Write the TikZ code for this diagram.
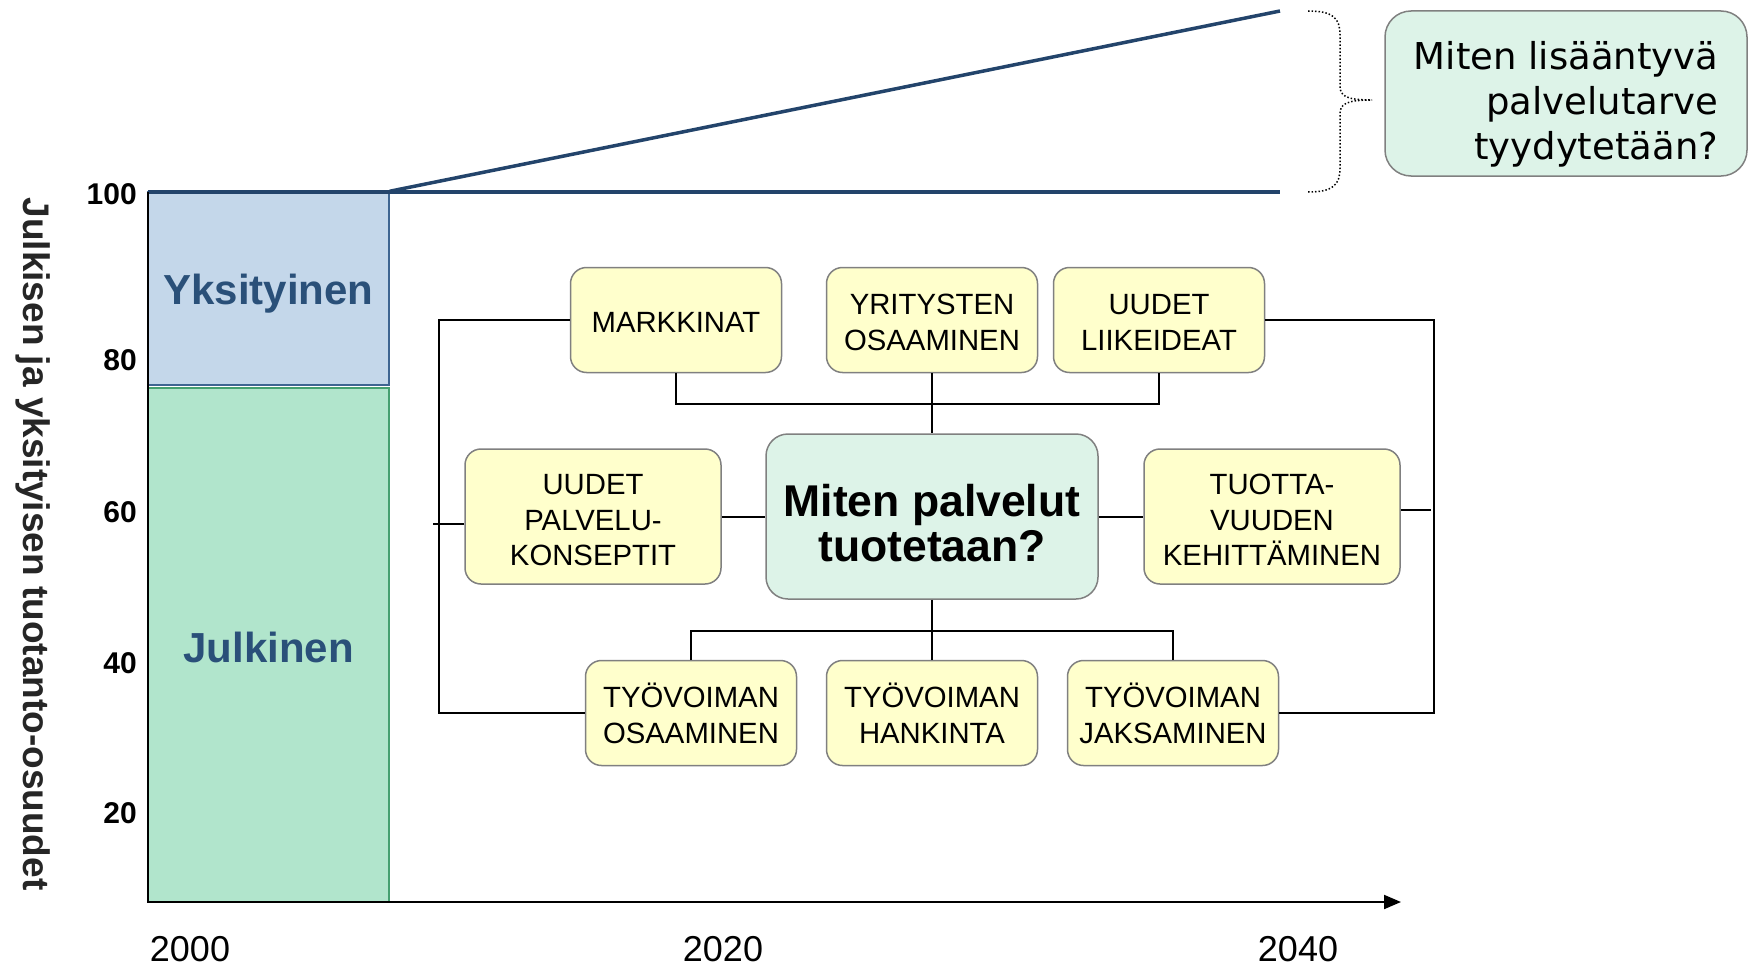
\documentclass[tikz,border=0pt]{standalone}
\usepackage{fontspec}
\setmainfont{Liberation Sans}
\newfontfamily\calloutfont{DejaVu Sans}
\usetikzlibrary{arrows.meta}
\definecolor{navy}{HTML}{23446B}
\definecolor{navytext}{HTML}{2A5079}
\definecolor{barblue}{HTML}{C4D7EA}
\definecolor{barblueline}{HTML}{3E6591}
\definecolor{bargreen}{HTML}{B1E5CC}
\definecolor{bargreenline}{HTML}{45A070}
\definecolor{boxyellow}{HTML}{FFFFCC}
\definecolor{boxgray}{HTML}{808080}
\definecolor{mint}{HTML}{DDF3E8}
\definecolor{labelgray}{HTML}{262626}
\newcommand{\toprow}[1]{\rule{0pt}{#1}}
\begin{document}
\begin{tikzpicture}[x=1pt,y=-1pt,
  ybox/.style={draw=boxgray, fill=boxyellow, line width=1.5pt, rounded corners=16pt, align=center, inner sep=0pt, font=\fontsize{29.3}{35.5}\selectfont, minimum width=211pt, minimum height=105pt},
  widebox/.style={ybox, minimum width=256pt, minimum height=135pt},
  conn/.style={draw=black, line width=2pt},
  tick/.style={anchor=east, inner sep=0pt, font=\bfseries\fontsize{30}{36}\selectfont},
  year/.style={inner sep=0pt, font=\fontsize{36}{43}\selectfont},
  bar/.style={line width=1.5pt, inner sep=0pt, minimum width=241pt, font=\bfseries\fontsize{42}{50}\selectfont, text=navytext},
  trend/.style={draw=navy, line width=3.5pt},
  bracestyle/.style={draw=black, line width=1.5pt, dash pattern=on 1.5pt off 2pt},
]
\useasboundingbox (0,0) rectangle (1750,966);

% bars
\node[bar, draw=bargreenline, fill=bargreen, minimum height=514pt] (pub) at (268.5,645) {\toprow{35pt}Julkinen};
\node[bar, draw=barblueline, fill=barblue, minimum height=193pt] (priv) at (268.5,288.5) {\toprow{41pt}Yksityinen};

% trend lines
\coordinate (o100) at (148,192);
\coordinate (t100) at (1280,192);
\coordinate (t140) at (1280,11);
\draw[trend] (o100) -- (t100);
\draw[trend] (priv.north east) -- (t140);

% axes
\coordinate (origin) at (148,902);
\coordinate (xend) at (1401,902);
\draw[line width=2pt, -{Triangle[length=17pt,width=14pt]}] (o100) -- (origin) -- (xend);

% ticks
\node[tick] (k100) at (137,194) {100};
\node[tick] (k80) at (137,360) {80};
\node[tick] (k60) at (137,512) {60};
\node[tick] (k40) at (137,663) {40};
\node[tick] (k20) at (137,813) {20};

\node[rotate=-90, font=\bfseries\fontsize{37}{43}\selectfont, text=labelgray] (ylab) at (33,544) {Julkisen ja yksityisen tuotanto-osuudet};

\node[year] (y2000) at (190,949) {2000};
\node[year] (y2020) at (723,949) {2020};
\node[year] (y2040) at (1298,949) {2040};

% brace
\coordinate (btop) at (1308,11);
\coordinate (bbot) at (1308,192);
\coordinate (btip) at (1372,100);
\draw[bracestyle] (btop) .. controls (1333,11) and (1340,18) .. (1340,35) -- (1340,86) .. controls (1340,96) and (1346,100) .. (btip);
\draw[bracestyle] (bbot) .. controls (1333,192) and (1340,185) .. (1340,168) -- (1340,114) .. controls (1340,104) and (1346,100) .. (btip);

% callout
\node[draw=boxgray, fill=mint, line width=1.5pt, rounded corners=26pt, minimum width=362pt, minimum height=165pt, align=right, inner sep=0pt, font=\calloutfont\fontsize{37}{45}\selectfont] (call) at (1566,93.5) {\toprow{50pt}Miten lisääntyvä\\palvelutarve\\tyydytetään?};

% flowchart
\node[ybox] (mark) at (676,320) {\toprow{25pt}MARKKINAT};
\node[ybox] (yri) at (932,320) {\toprow{25pt}YRITYSTEN\\OSAAMINEN};
\node[ybox] (lii) at (1159,320) {\toprow{25pt}UUDET\\LIIKEIDEAT};
\node[widebox] (palv) at (593,516.5) {\toprow{27.5pt}UUDET\\PALVELU-\\KONSEPTIT};
\node[draw=boxgray, fill=mint, line width=1.5pt, rounded corners=22pt, minimum width=332pt, minimum height=165pt, align=center, inner sep=0pt, font=\bfseries\fontsize{44.5}{45}\selectfont] (center) at (932,516.5) {\toprow{44.5pt}Miten palvelut\\tuotetaan?};
\node[widebox] (tuo) at (1272,516.5) {\toprow{27.5pt}TUOTTA-\\VUUDEN\\KEHITTÄMINEN};
\node[ybox] (osa) at (691,713) {\toprow{25pt}TYÖVOIMAN\\OSAAMINEN};
\node[ybox] (hank) at (932,713) {\toprow{25pt}TYÖVOIMAN\\HANKINTA};
\node[ybox] (jak) at (1173,713) {\toprow{25pt}TYÖVOIMAN\\JAKSAMINEN};

% connectors
\coordinate (topbar) at (932,404);
\coordinate (botbar) at (932,631);
\coordinate (lx) at (439,0);
\coordinate (rx) at (1434,0);
\draw[conn] (mark.south) |- (topbar) -| (lii.south);
\draw[conn] (yri.south) -- (center.north);
\draw[conn] (center.south) -- (hank.north);
\draw[conn] (osa.north) |- (botbar) -| (jak.north);
\draw[conn] (palv.east) -- (center.west);
\draw[conn] (center.east) -- (tuo.west);
\draw[conn] (mark.west) -| (lx |- osa.west) -- (osa.west);
\draw[conn] (lii.east) -| (rx |- jak.east) -- (jak.east);
\draw[conn] ([yshift=-7pt]palv.west) -- ++(-31,0);
\draw[conn] ([yshift=7pt]tuo.east) -- ++(30,0);
\end{tikzpicture}
\end{document}
